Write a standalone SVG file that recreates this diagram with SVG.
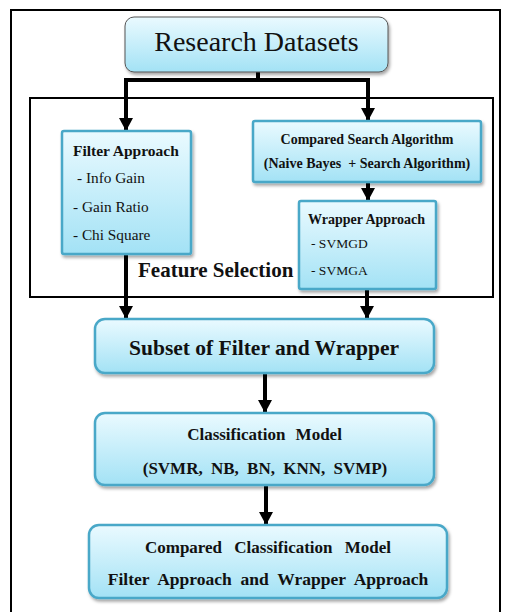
<svg xmlns="http://www.w3.org/2000/svg" width="507" height="612" viewBox="0 0 507 612">
<defs>
<linearGradient id="g" x1="0" y1="0" x2="0" y2="1">
<stop offset="0" stop-color="#eafaff"/>
<stop offset="1" stop-color="#a3e2f5"/>
</linearGradient>
<filter id="sh" x="-10%" y="-10%" width="125%" height="130%">
<feDropShadow dx="1.5" dy="2.5" stdDeviation="1.8" flood-color="#000" flood-opacity="0.35"/>
</filter>
<marker id="ah" markerUnits="userSpaceOnUse" markerWidth="14" markerHeight="14" viewBox="0 0 14 14" refX="13" refY="7" orient="auto">
<path d="M0,0 L13,7 L0,14 Z" fill="#000"/>
</marker>
<style>
.box{fill:url(#g);stroke:#4aa8c8;stroke-width:2.5;filter:url(#sh)}
.top{fill:url(#g);stroke:#555;stroke-width:1;filter:url(#sh)}
.con{fill:none;stroke:#000;stroke-width:4;stroke-linejoin:miter}
.b{font-weight:bold}
</style>
</defs>
<rect x="11" y="10" width="489" height="620" fill="none" stroke="#000" stroke-width="2"/>
<rect id="feature-selection" x="30" y="98" width="463" height="199" fill="none" stroke="#000" stroke-width="2"/>
<g id="connectors">
<path class="con" d="M258,72 V80 H126 V131" marker-end="url(#ah)"/>
<path class="con" d="M256,80 H368 V121" marker-end="url(#ah)"/>
<path class="con" d="M368,182 V201" marker-end="url(#ah)"/>
<path class="con" d="M126,254 V319" marker-end="url(#ah)"/>
<path class="con" d="M367,289 V319" marker-end="url(#ah)"/>
<path class="con" d="M265,373 V413" marker-end="url(#ah)"/>
<path class="con" d="M266,485 V525" marker-end="url(#ah)"/>
</g>
<g font-family="'Liberation Serif', 'DejaVu Serif', serif" fill="#111">
<g id="research-datasets">
<rect class="top" x="125" y="17" width="263" height="55" rx="9"/>
<text x="256.5" y="51" font-size="28" text-anchor="middle">Research Datasets</text>
</g>
<g id="filter-approach">
<rect class="box" x="62" y="131" width="129" height="123" rx="2"/>
<text class="b" x="73" y="156" font-size="15.5">Filter Approach</text>
<text x="77" y="183" font-size="15.3">- Info Gain</text>
<text x="73" y="212" font-size="15.3">- Gain Ratio</text>
<text x="73" y="240" font-size="15.3">- Chi Square</text>
</g>
<g id="compared-search">
<rect class="box" x="253" y="121" width="228" height="61" rx="2"/>
<text class="b" x="367" y="143.5" font-size="14" text-anchor="middle">Compared Search Algorithm</text>
<text class="b" x="367" y="167.5" font-size="14" text-anchor="middle" xml:space="preserve">(Naive Bayes  + Search Algorithm)</text>
</g>
<g id="wrapper-approach">
<rect class="box" x="299" y="201" width="137" height="88" rx="2"/>
<text class="b" x="308" y="224" font-size="14">Wrapper Approach</text>
<text x="311" y="248" font-size="13.5">- SVMGD</text>
<text x="311" y="275" font-size="13.5">- SVMGA</text>
</g>
<text id="feature-selection-label" class="b" x="138" y="277" font-size="21">Feature Selection</text>
<g id="subset">
<rect class="box" x="95" y="319" width="339" height="54" rx="10"/>
<text class="b" x="264" y="354.5" font-size="21.5" text-anchor="middle">Subset of Filter and Wrapper</text>
</g>
<g id="classification-model">
<rect class="box" x="95" y="413" width="339" height="72" rx="10"/>
<text class="b" x="264.5" y="439.5" font-size="17" text-anchor="middle" word-spacing="6">Classification Model</text>
<text class="b" x="265" y="474" font-size="17" text-anchor="middle" word-spacing="4">(SVMR, NB, BN, KNN, SVMP)</text>
</g>
<g id="compared-classification">
<rect class="box" x="89" y="525" width="358" height="73" rx="10"/>
<text class="b" x="268" y="552.5" font-size="17" text-anchor="middle" word-spacing="8">Compared Classification Model</text>
<text class="b" x="268" y="585" font-size="17.5" text-anchor="middle" word-spacing="4.5">Filter Approach and Wrapper Approach</text>
</g>
</g>
</svg>
